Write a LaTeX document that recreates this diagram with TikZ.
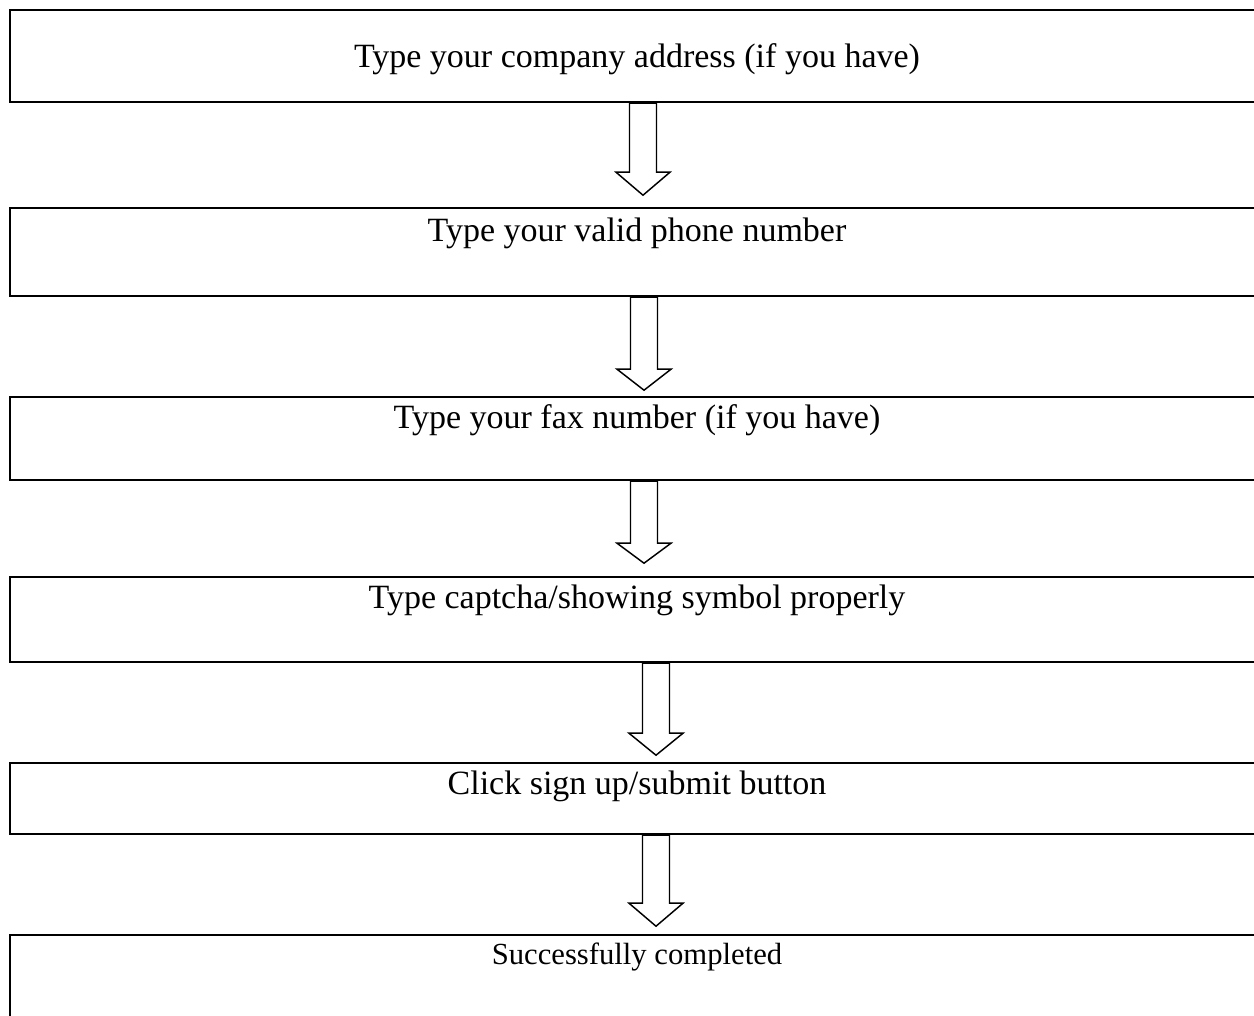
\documentclass[tikz,border=0pt]{standalone}
\usepackage{fontspec}
\setmainfont{Liberation Serif}
\newcommand\blockarrow[3]{%
  \draw[blk] (#1) ++(-13.5,0) -- ++(0,#2-#3) -- ++(-13.5,0) -- ++(27,#3) -- ++(27,-#3) -- ++(-13.5,0) -- ++(0,-#2+#3) -- cycle;}
\begin{document}
\begin{tikzpicture}[x=0.75pt,y=-0.75pt,
  box/.style={draw, line width=1.8pt, minimum width=940.5pt, inner sep=0pt},
  lbl/.style={anchor=base, inner sep=0pt, font=\fontsize{25.5}{30}\selectfont},
  lblsmall/.style={lbl, font=\fontsize{23}{27}\selectfont},
  blk/.style={draw, line width=1.1pt, fill=white, line join=miter}]
\useasboundingbox (0,0) rectangle (1254,1015);
\clip (0,0) rectangle (1254,1015);
\fill[white] (0,0) rectangle (1254,1015);
\node[box, minimum height=69pt]    (b1) at (637,56)    {};
\node[box, minimum height=66pt]    (b2) at (637,252)   {};
\node[box, minimum height=62.25pt] (b3) at (637,438.5) {};
\node[box, minimum height=63.75pt] (b4) at (637,619.5) {};
\node[box, minimum height=53.25pt] (b5) at (637,798.5) {};
\node[box, minimum height=120pt]   (b6) at (637,1015)  {};
\node[lbl] (t1) at (637,67)  {Type your company address (if you have)};
\node[lbl] (t2) at (637,241) {Type your valid phone number};
\node[lbl] (t3) at (637,428) {Type your fax number (if you have)};
\node[lbl] (t4) at (637,608) {Type captcha/showing symbol properly};
\node[lbl] (t5) at (637,794) {Click sign up/submit button};
\node[lblsmall] (t6) at (637,964) {Successfully completed};
\coordinate (x1) at (643,0);
\coordinate (x2) at (644,0);
\coordinate (x4) at (656,0);
\coordinate (a1) at (b1.south -| x1);
\coordinate (a2) at (b2.south -| x2);
\coordinate (a3) at (b3.south -| x2);
\coordinate (a4) at (b4.south -| x4);
\coordinate (a5) at (b5.south -| x4);
\blockarrow{a1}{92}{23}
\blockarrow{a2}{93}{21}
\blockarrow{a3}{82}{20}
\blockarrow{a4}{92}{22}
\blockarrow{a5}{91}{23}
\end{tikzpicture}
\end{document}
